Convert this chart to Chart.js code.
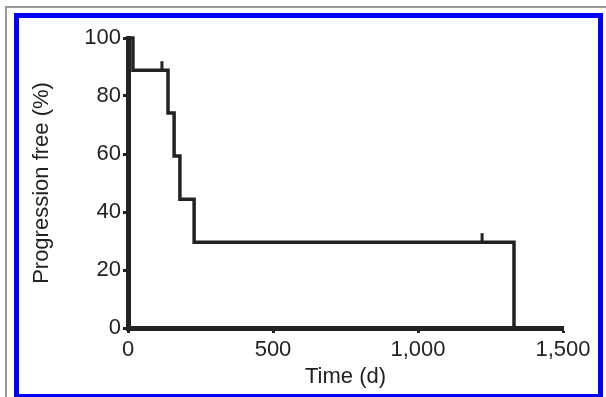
<!DOCTYPE html>
<html>
<head>
<meta charset="utf-8">
<script src="https://cdn.jsdelivr.net/npm/chart.js@4/dist/chart.umd.min.js"></script>
<style>
    html, body { margin: 0; padding: 0; background: #fff; }
    body { width: 606px; height: 397px; position: relative; overflow: hidden; }
    .outer { position: absolute; left: 5px; top: 6px; width: 620px; height: 420px;
             border-left: 2px solid #999; border-top: 2px solid #999; }
    .frame { position: absolute; left: 14px; top: 13px; width: 579px; height: 376px;
             border: 5px solid #0000ff; background: #fff; }
    canvas { position: absolute; left: 0; top: 0; }
</style>
</head>
<body>
<div class="outer"></div>
<div class="frame"></div>
<canvas id="km" width="606" height="397"></canvas>
<script>
// Kaplan-Meier curve: event times (days) and survival after each step (%)
const eventTimes = [0, 17, 138, 159, 179, 228, 1331];
const survival = [100, 88.9, 74.1, 59.3, 44.4, 29.6, 0];

// Censored observations
const censorTimes = [117, 1221];
const censorValues = [88.9, 29.6];

const xTickLabels = ["0", "500", "1,000", "1,500"];
const yTickLabels = ["0", "20", "40", "60", "80", "100"];

const ink = "#222";
const font = { family: "'Liberation Sans', Arial, sans-serif", size: 22 };

// Draw censor marks as small vertical ticks above the curve
const censorMarks = {
    id: "censorMarks",
    afterDatasetsDraw(chart) {
        const { ctx, scales } = chart;
        ctx.save();
        ctx.strokeStyle = ink;
        ctx.lineWidth = 3;
        censorTimes.forEach((t, i) => {
            const x = scales.x.getPixelForValue(t);
            const y = scales.y.getPixelForValue(censorValues[i]);
            ctx.beginPath();
            ctx.moveTo(x, y);
            ctx.lineTo(x, y - 9);
            ctx.stroke();
        });
        ctx.restore();
    },
};

new Chart(document.getElementById("km"), {
    type: "line",
    data: {
        datasets: [
            {
                data: eventTimes.map((t, i) => ({ x: t, y: survival[i] })),
                stepped: true,
                borderColor: ink,
                borderWidth: 3.5,
                pointRadius: 0,
                fill: false,
                clip: false,
            },
        ],
    },
    options: {
        responsive: false,
        animation: false,
        layout: { padding: { left: 25, right: 43, top: 38, bottom: 3 } },
        plugins: { legend: { display: false }, tooltip: { enabled: false } },
        scales: {
            x: {
                type: "linear",
                min: 0,
                max: 1500,
                afterFit: (axis) => { axis.height = 66; },
                afterBuildTicks: (axis) => {
                    axis.ticks = xTickLabels.map((_, i) => ({ value: i * 500 }));
                },
                ticks: {
                    color: ink,
                    font: font,
                    padding: 4,
                    maxRotation: 0,
                    callback: (v, i) => xTickLabels[i],
                },
                grid: {
                    drawOnChartArea: false,
                    drawTicks: true,
                    tickLength: 5,
                    tickWidth: 3,
                    tickColor: ink,
                },
                border: { display: true, width: 5, color: ink },
                title: { display: true, text: "Time (d)", color: ink, font: font },
            },
            y: {
                min: 0,
                max: 100,
                afterFit: (axis) => { axis.width = 103; },
                afterBuildTicks: (axis) => {
                    axis.ticks = yTickLabels.map((_, i) => ({ value: i * 20 }));
                },
                ticks: {
                    color: ink,
                    font: font,
                    padding: 2,
                    callback: (v, i) => yTickLabels[i],
                },
                grid: {
                    drawOnChartArea: false,
                    drawTicks: true,
                    tickLength: 5,
                    tickWidth: 3,
                    tickColor: ink,
                },
                border: { display: true, width: 5, color: ink },
                title: { display: true, text: "Progression free (%)", color: ink, font: font },
            },
        },
    },
    plugins: [censorMarks],
});
</script>
</body>
</html>
